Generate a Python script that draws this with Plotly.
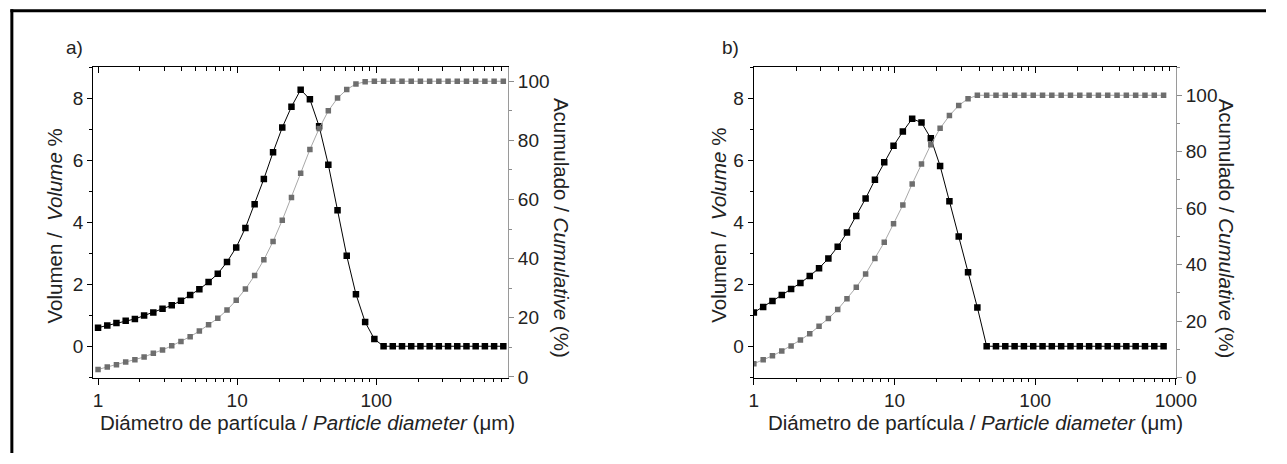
import plotly.graph_objects as go

# ---------------- data ----------------
diam = [1.000, 1.165, 1.356, 1.580, 1.840, 2.143, 2.496, 2.907, 3.386, 3.944,
        4.592, 5.348, 6.229, 7.255, 8.450, 9.840, 11.46, 13.35, 15.55, 18.11,
        21.09, 24.56, 28.60, 33.32, 38.81, 45.19, 52.63, 61.29, 71.38, 83.14,
        96.83, 112.8, 131.3, 153.0, 178.2, 207.5, 241.7, 281.4, 327.8, 381.8,
        444.6, 517.9, 603.1, 702.4, 818.1]

vol_a = [0.60, 0.67, 0.75, 0.82, 0.88, 0.99, 1.09, 1.21, 1.32, 1.47,
         1.65, 1.84, 2.07, 2.34, 2.72, 3.19, 3.82, 4.58, 5.40, 6.26,
         7.06, 7.73, 8.28, 7.97, 7.10, 5.86, 4.39, 2.92, 1.68, 0.78,
         0.23, 0.0, 0.0, 0.0, 0.0, 0.0, 0.0, 0.0, 0.0, 0.0,
         0.0, 0.0, 0.0, 0.0, 0.0]
cum_a = [2.5, 3.3, 4.1, 5.0, 5.8, 6.7, 8.0, 9.1, 10.5, 12.0,
         13.6, 15.5, 17.6, 19.8, 22.6, 25.9, 29.7, 34.3, 39.6, 45.8,
         53.0, 60.7, 68.9, 76.9, 84.0, 90.0, 94.3, 97.2, 99.1, 99.8,
         100, 100, 100, 100, 100, 100, 100, 100, 100, 100,
         100, 100, 100, 100, 100]

vol_b = [1.09, 1.27, 1.46, 1.65, 1.85, 2.04, 2.27, 2.52, 2.83, 3.21,
         3.67, 4.20, 4.77, 5.37, 5.94, 6.47, 6.93, 7.34, 7.22, 6.71,
         5.82, 4.68, 3.54, 2.39, 1.25, 0.0, 0.0, 0.0, 0.0, 0.0,
         0.0, 0.0, 0.0, 0.0, 0.0, 0.0, 0.0, 0.0, 0.0, 0.0,
         0.0, 0.0, 0.0, 0.0, 0.0]
cum_b = [4.9, 6.3, 7.7, 9.4, 11.2, 13.3, 15.5, 18.2, 20.9, 24.1,
         27.9, 32.0, 36.7, 42.2, 47.9, 54.5, 61.1, 68.6, 75.7, 82.5,
         88.3, 92.8, 96.4, 98.8, 100, 100, 100, 100, 100, 100,
         100, 100, 100, 100, 100, 100, 100, 100, 100, 100,
         100, 100, 100, 100, 100]

panel_labels = ["a)", "b)"]
x_ticks_a = [1, 10, 100]
x_ticks_b = [1, 10, 100, 1000]
left_ticks = [0, 2, 4, 6, 8]
right_ticks = [0, 20, 40, 60, 80, 100]

title_x = "Diámetro de partícula / <i>Particle diameter</i> (μm)"
title_yl = "Volumen /  <i>Volume</i> %"
title_yr = "Acumulado / <i>Cumulative</i> (%)"

# ---------------- layout geometry (pixels) ----------------
W, H = 1287, 464
def px(x):
    return x / W
def py(y):
    return 1 - y / H

FONT = "Liberation Sans, Arial, Helvetica, sans-serif"
TXT = "#222222"
TICKF = dict(family=FONT, size=19, color=TXT)

ydom = [py(386.7), py(68.7)]
dom_a = [px(90), px(513.3)]
dom_b = [px(764.3), px(1195)]

fig = go.Figure()

def add_panel(fig, vol, cum, xn, yl, yr, xt):
    fig.add_trace(go.Scatter(x=diam, y=cum, mode="lines+markers",
                             xaxis="x" + xn, yaxis="y" + yr,
                             line=dict(color="#a8a8a8", width=1),
                             marker=dict(symbol="square", size=5.5, color="#6e6e6e"),
                             showlegend=False, hoverinfo="x+y"))
    fig.add_trace(go.Scatter(x=diam, y=vol, mode="lines+markers",
                             xaxis="x" + xn, yaxis="y" + yl,
                             line=dict(color="#000000", width=1),
                             marker=dict(symbol="square", size=6.5, color="#000000"),
                             showlegend=False, hoverinfo="x+y"))
    # invisible trace for the top (mirror) axis
    fig.add_trace(go.Scatter(x=diam, y=vol, mode="markers", opacity=0,
                             xaxis="x" + xt, yaxis="y" + yl,
                             showlegend=False, hoverinfo="skip"))

add_panel(fig, vol_a, cum_a, "", "", "2", "2")
add_panel(fig, vol_b, cum_b, "3", "3", "4", "4")

def xaxis_bottom(dom, rng, ticks, anchor):
    return dict(type="log", domain=dom, range=rng, anchor=anchor,
                tickmode="array", tickvals=ticks, ticktext=[str(t) for t in ticks],
                ticks="outside", ticklen=6, tickwidth=1.2, tickcolor="#000",
                minor=dict(dtick="D1", ticks="outside", ticklen=3.5, tickwidth=1, tickcolor="#000"),
                showline=True, linecolor="#000", linewidth=1.3,
                showgrid=False, zeroline=False, tickfont=TICKF)

def xaxis_top(dom, rng, overlay, anchor):
    return dict(type="log", domain=dom, range=rng, overlaying=overlay, anchor=anchor,
                side="top", tickmode="array", tickvals=[1, 10, 100, 1000],
                showticklabels=False,
                ticks="inside", ticklen=6, tickwidth=1.2, tickcolor="#000",
                minor=dict(dtick="D1", ticks="inside", ticklen=3.5, tickwidth=1, tickcolor="#000"),
                showline=True, linecolor="#000", linewidth=1.3,
                showgrid=False, zeroline=False)

def yaxis_left(rng, anchor):
    return dict(domain=ydom, range=rng, anchor=anchor,
                tickmode="array", tickvals=left_ticks,
                ticks="outside", ticklen=5, tickwidth=1.2, tickcolor="#000",
                minor=dict(dtick=1, tick0=0, ticks="outside", ticklen=3, tickwidth=1, tickcolor="#000"),
                showline=True, linecolor="#000", linewidth=1.3,
                showgrid=False, zeroline=False, tickfont=TICKF)

def yaxis_right(rng, overlay, anchor):
    return dict(domain=ydom, range=rng, overlaying=overlay, anchor=anchor, side="right",
                tickmode="array", tickvals=right_ticks,
                ticks="outside", ticklen=5, tickwidth=1, tickcolor="#8c8c8c",
                minor=dict(dtick=10, tick0=0, ticks="outside", ticklen=3, tickwidth=1, tickcolor="#8c8c8c"),
                showline=True, linecolor="#9a9a9a", linewidth=1.2,
                showgrid=False, zeroline=False, tickfont=TICKF)

fig.update_layout(
    width=W, height=H,
    margin=dict(l=0, r=0, t=0, b=0),
    paper_bgcolor="white", plot_bgcolor="white",
    showlegend=False,
    xaxis=xaxis_bottom(dom_a, [-0.035, 2.946], x_ticks_a, "y"),
    xaxis2=xaxis_top(dom_a, [-0.035, 2.946], "x", "y"),
    yaxis=yaxis_left([-1.01, 9.01], "x"),
    yaxis2=yaxis_right([-0.23, 104.8], "y", "x"),
    xaxis3=xaxis_bottom(dom_b, [0, 3], x_ticks_b, "y3"),
    xaxis4=xaxis_top(dom_b, [0, 3], "x3", "y3"),
    yaxis3=yaxis_left([-1.01, 9.01], "x3"),
    yaxis4=yaxis_right([0, 110], "y3", "x3"),
)

# ---------------- text ----------------
ann = []
def text(x, y, s, size, angle=0):
    ann.append(dict(x=px(x), y=py(y), xref="paper", yref="paper", text=s,
                    showarrow=False, textangle=angle, xanchor="center", yanchor="middle",
                    font=dict(family=FONT, size=size, color=TXT)))

text(71, 49, panel_labels[0], 19)
text(740, 49, panel_labels[1], 19)
text(51, 231, title_yl, 20.5, -90)
text(728, 231, title_yl, 20.5, -90)
text(309, 433, title_x, 20.5)
text(990, 433, title_x, 20.5)
text(568, 233, title_yr, 20.5, 90)
text(1247, 234, title_yr, 20.5, 90)
fig.update_layout(annotations=ann)

# outer frame (top and left edges visible in the reference), kept inside the page
fig.add_shape(type="line", xref="paper", yref="paper",
              x0=px(5.5), x1=1.0, y0=py(11), y1=py(11),
              line=dict(color="#000", width=3))
fig.add_shape(type="line", xref="paper", yref="paper",
              x0=px(7), x1=px(7), y0=py(9.5), y1=0.0,
              line=dict(color="#000", width=3))

fig.write_html("out.html",
               config={"displayModeBar": False},
               post_script="document.body.style.margin='0px';document.body.style.overflow='hidden';")
